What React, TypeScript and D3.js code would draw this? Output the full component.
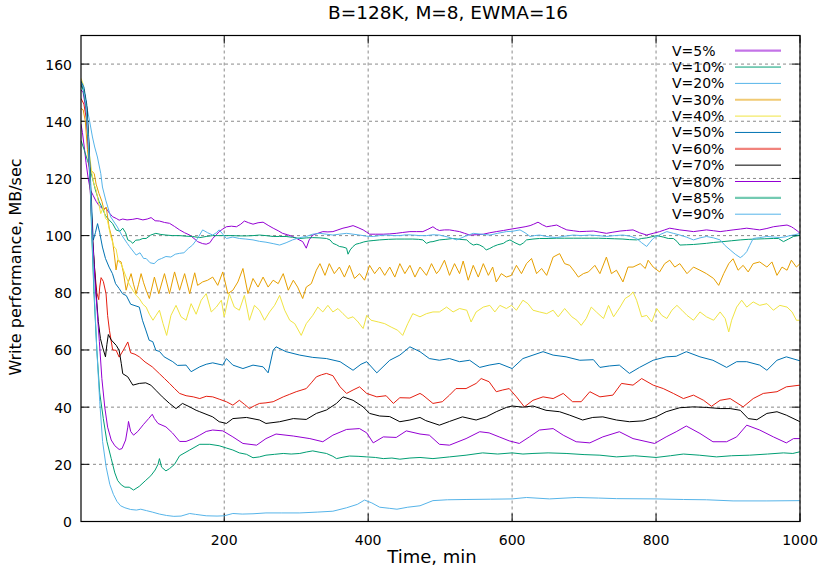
import React from "react";
import * as d3 from "d3";

type Pt = [number, number];

// Write throughput (MB/sec) over time (minutes) for each V setting
const v5: Pt[] = [[1,139],[3,136],[6,130],[8,125.5],[11,120],[14,116],[18,114],[22,112],[26,110.5],[31,109.4],[35.8,109.6],[40,108],[45,106.6],[50,106],[54,105.4],[59,105.8],[65,105.5],[73,105.7],[79,106],[87,105.5],[93,105.8],[98.4,106.3],[104,105.2],[110,105.1],[117,104.6],[124,104.3],[131,103.2],[138,102],[145,101],[152,100.2],[158,99],[163,97.9],[170,97.2],[175,97],[180,97.5],[184,99],[189,100.3],[193,101.4],[198,102.3],[203,103.1],[210,103.3],[217,103.1],[223,104],[228,105.1],[234,104.5],[240,104],[247,104.5],[254,104.7],[261,103.6],[268,102.6],[275,101.7],[281,100.8],[288,100.3],[295,99.7],[302,98.8],[309,97.9],[314,95.6],[318,98.5],[323,100.2],[330,100.8],[337,101.4],[344,101.3],[351,101.4],[358,102],[365,102.6],[372,103],[379,103.5],[386,102.8],[393,102],[398,101.2],[402,100.5],[410,100.5],[421,100.5],[430,100.6],[439,100.8],[448,101.1],[458,101.4],[467,101.4],[476,101.4],[483,102.2],[490,103.1],[495,102.2],[499,101.8],[506,102],[513,102],[520,101.7],[527,101.4],[534,100.8],[541,100.2],[550,100.3],[560,100.5],[569,101],[578,101.4],[588,101.8],[597,102.2],[604,102.5],[611,102.8],[618,103.1],[625,103.5],[630,104],[636,104.7],[642,103.8],[648,103.1],[655,103.4],[662,103.7],[669,102.8],[676,102],[685,101.7],[694,101.4],[703,101.5],[713,101.6],[722,101.2],[731,100.8],[740,101.2],[750,101.6],[759,101.8],[768,102],[777,101],[787,100.2],[796,100.8],[805,101.4],[812,102],[819,102.6],[826,102.3],[833,102],[843,101.7],[852,101.4],[861,101.7],[870,102],[880,101.7],[889,101.4],[898,101.7],[907,102],[917,102.3],[926,102.6],[935,102.3],[944,102],[954,102.5],[963,103.1],[972,103.4],[982,103.7],[988,103.1],[991,102.6],[996,101.7],[1000,100.8]];

const v10: Pt[] = [[1,133.3],[5.7,129.8],[10,126.3],[13,124],[17,120],[21,116],[26,112],[30,110],[35,107],[40,105.5],[45,104.2],[49.7,102],[55,101.5],[59,102.6],[63,101],[66,98.5],[70,98],[73,97.3],[77,98.4],[82,98.5],[87,99],[91.5,99],[98,100.2],[105,100.8],[112,100.4],[119,100.2],[128,100],[138,100],[147,99.8],[156,99.7],[166,99.3],[175,99.7],[184,100],[193,100],[203,100],[212,100],[221,99.9],[231,99.9],[240,100],[249,100.2],[258,100],[268,99.7],[277,99.7],[286,99.7],[295,99.4],[305,99],[314,99.2],[323,99.3],[333,99.2],[342,99],[347,98.5],[351,97.3],[356,96.8],[360,96.2],[365,96],[370,95.6],[372,93.5],[375,95],[379,96.2],[383,97],[388,97.3],[394,97.8],[400,98.1],[408,98.3],[416,98.5],[428,98.7],[439,98.8],[450,98.8],[462,98.8],[470,98.7],[476,98.5],[481,97.3],[486,97.8],[490,97.9],[499,98.5],[508,98.7],[518,99],[527,98.7],[537,98.5],[541,97.5],[546,96.7],[551,97],[555,96.7],[560,96],[564,95],[569,95.5],[574,96.2],[580,96.8],[588,97.3],[592,98],[597,98.5],[604,97.5],[611,96.7],[616,97.5],[620,98.5],[629,98.8],[638,99],[650,99],[662,99.1],[673,99.1],[685,99.1],[696,99.1],[708,99.1],[720,99.1],[731,99],[742,98.9],[754,98.8],[763,98.6],[773,98.5],[780,99],[787,99.2],[794,99.6],[801,100],[810,99.5],[817,99],[824,99],[829,98],[833,96.7],[842,96.8],[852,96.9],[861,97.1],[870,97.3],[880,97.6],[893,97.9],[905,98.2],[917,98.5],[928,98.7],[940,98.8],[951,98.9],[963,99],[970,99],[977,97.9],[984,98.8],[991,99.7],[1000,100.2]];

const v20: Pt[] = [[1,154.3],[5,150],[10,143.8],[13,140],[16.9,134.5],[20,131],[23.8,127.5],[28.5,121.7],[30.8,117],[35.4,112.4],[42.4,106.5],[51.6,103],[58,100],[65.5,97.2],[68.3,96.2],[72,95],[77.6,93.2],[83,94],[88,92],[91.5,92],[97,90.5],[102.6,90.2],[108,91.5],[113,92],[119,92.7],[125.8,92.5],[132,93.5],[138,93.8],[144,94],[150,95.5],[156,96.7],[163,99],[170,102],[177,101],[184,100.2],[189,101],[193,102],[198,100.5],[203,99],[212,99.5],[221,99],[230,98.8],[240,98.5],[249,98],[258,97.7],[268,97.2],[277,96.7],[286,97.5],[295,98.5],[305,99.3],[314,99.7],[323,100.5],[333,100.8],[342,100.5],[351,100.2],[360,100.5],[370,100.8],[379,100.5],[388,100.2],[398,99.8],[407,99.7],[416,100],[425,100.2],[435,100],[444,100],[453,100.3],[462,100.2],[472,100],[481,100],[490,100.3],[499,100.2],[511,99.5],[523,98.5],[535,99.8],[546,100.8],[557,100.5],[569,100.2],[580,100.8],[592,101.4],[600,101.5],[611,102],[618,101],[625,99.7],[631,100],[638,100.2],[650,99.6],[662,99.3],[673,99.8],[685,100.2],[696,100],[708,100.2],[720,100],[731,99.7],[742,100],[754,100.2],[764,99.8],[773,99],[780,97.5],[787,96.2],[791,97.5],[796,99],[805,100.3],[815,101.4],[824,100.8],[833,100.2],[842,99.5],[852,98.5],[861,99.2],[870,99.7],[880,99.2],[889,98.5],[896,96.5],[903,95],[910,93.5],[917,92.3],[921,93],[926,94.4],[930,96.5],[935,99],[944,99.3],[954,99.7],[963,99.5],[972,99.3],[980,99.6],[986,100],[993,100.3],[1000,100.8]];

const v30: Pt[] = [[1,144.5],[4,144],[7,140],[10,130],[12.5,124],[15,122.8],[19.4,121.7],[22,118],[26,114.7],[30,112],[33,108.9],[36,110],[40,103],[44.7,98.4],[47,94],[49.7,88],[52,91.4],[56.7,90.8],[60,87],[63.7,80.9],[67,84],[70.6,86.7],[74,83],[77.6,79.7],[81,83],[84.5,86.7],[88,83.5],[91.5,80.9],[96,78],[103,85.5],[109,79.7],[117,86.7],[124,79.7],[131,87.3],[138,80.9],[145,86.7],[152,79.7],[159,87],[163,82.6],[170,83.8],[177,84.4],[184,85.5],[191,82.6],[198,87.3],[205,79.7],[212,80.9],[219,83.8],[226,88.5],[233,79.7],[240,85],[247,82],[254,85.5],[261,82],[268,84.4],[275,83.2],[282,86.7],[289,80.9],[296,84.4],[302,82],[309,78],[314,82],[321,83.2],[328,87.9],[333,90.2],[340,86.1],[346,90.2],[353,86.7],[360,89],[367,85.5],[374,89.6],[381,85],[388,86.7],[395,84.4],[402,89.6],[409,86.7],[416,89],[423,86.1],[430,89],[437,85.5],[444,90.2],[451,86.7],[458,89.6],[465,85.5],[472,89],[481,86.1],[488,90.2],[495,86.7],[499,87.9],[506,91.4],[513,86.1],[520,90.2],[527,86.7],[532,91.1],[539,84.4],[546,89.6],[553,85.5],[560,90.2],[567,86.1],[573,89],[578,83.8],[585,86.7],[592,85.5],[599,86.1],[606,89.6],[613,86.7],[620,90.2],[627,92],[634,86.7],[641,88.5],[648,86.1],[657,92.5],[666,93.7],[673,90.2],[680,89.6],[687,87.3],[692,85.5],[699,86.7],[706,87.3],[715,89.6],[722,86.7],[731,92.5],[738,86.7],[745,87.9],[754,83.8],[761,89],[768,89],[778,90.2],[785,88.5],[789,91.4],[796,89],[805,87.3],[812,90.2],[819,91.4],[826,89],[833,90.2],[843,86.7],[852,89],[861,87.9],[870,86.7],[880,85],[887,82.6],[894,86.7],[901,90.2],[907,91.9],[914,87.9],[921,89.6],[928,87.3],[935,90.2],[944,90.8],[954,89],[961,90.8],[968,86.1],[975,89],[982,87.9],[988,91.4],[995,89],[1000,90.2]];

const v40: Pt[] = [[1,155],[4,153],[7,148],[10,138],[13,128],[16,122],[19,118],[22,116],[25,112],[28.5,107.7],[32,110],[35,106],[37.7,105.4],[42,100],[47,96],[49.7,95.4],[53,91],[56.7,90.2],[60,88],[63.7,85.5],[68,83],[73,80.9],[78,79],[82,78],[87,76],[91.5,75],[96,72.5],[101,70.4],[105,72],[110,73.9],[115,69.2],[120,65.1],[126,72.1],[133,75.6],[140,71.6],[147,70.4],[154,76.2],[161,72.5],[168,77.4],[175,79.7],[182,73.3],[189,75],[196,77.4],[200,71.6],[207,79.7],[214,75],[221,73.9],[228,79.1],[235,70.4],[242,75.6],[249,73.9],[256,70.4],[263,73.3],[270,75.6],[277,79.1],[284,73.9],[291,70.4],[298,69.2],[307,65.1],[314,69.2],[323,72.1],[330,75],[337,73.3],[344,75.6],[351,73.3],[358,74.5],[365,72.7],[372,71],[379,71.6],[386,69.8],[393,67.5],[398,72.1],[404,70.4],[414,69.8],[423,69.2],[432,68],[441,66.9],[448,65.1],[455,69.2],[462,72.7],[472,71.6],[481,72.7],[490,73.3],[499,73.3],[509,75],[518,73.3],[527,74.5],[537,73.9],[543,69.8],[550,73.3],[560,75],[569,75.6],[576,73.3],[583,75.6],[592,74.5],[599,75.6],[606,73.9],[615,77.4],[622,76.2],[629,73.9],[638,73.3],[648,72.7],[657,73.9],[664,71.6],[673,74.5],[683,71.6],[690,70.4],[696,68.6],[703,71],[710,75],[717,73.3],[727,71],[734,75.6],[741,71.6],[750,75],[757,78],[764,79.1],[768,80.3],[773,77.4],[780,71.6],[787,72.1],[794,69.8],[801,74.5],[808,72.1],[815,71],[822,73.9],[829,75.6],[836,73.9],[843,72.1],[852,70.4],[861,73.3],[870,71.6],[880,70.4],[889,73.3],[896,71],[901,66.3],[905,70.4],[912,75],[919,77.4],[926,75],[935,76.8],[944,75.6],[954,76.2],[963,73.9],[972,75.6],[982,75],[989,73.3],[995,70.4],[1000,70.4]];

const v50: Pt[] = [[1,154],[5,152],[9,146],[12,133],[15,115],[18,98.4],[21,101],[24,104.2],[27,101],[30.8,96],[35,92],[40,89],[44.7,86.7],[49,83.2],[54,81.5],[58.6,79.7],[64,79],[70,76],[76,75.5],[82,75],[86.4,70.4],[91,67],[95.7,63.4],[100.7,62.9],[105,59.9],[110,59.5],[116.5,57.6],[128.5,55.9],[135,54.6],[147,54.7],[154,52.4],[166,54.1],[175,55],[184,55.5],[198,54.7],[203,57],[212,54.7],[226,53.5],[240,54.7],[254,54.1],[261,52],[268,59.9],[272,61.1],[286,59.4],[305,58.2],[323,57.4],[342,57],[361,55.9],[379,52.9],[390,55],[398,55.9],[412,52],[430,56.4],[444,58.2],[458,61.1],[472,59.4],[485,57],[499,56.4],[513,57],[527,55.9],[541,56.4],[555,53.9],[568,54.7],[582,55.3],[600,53.5],[615,57],[629,58.2],[643,59.4],[657,58.2],[675,57.6],[694,56.4],[713,56.6],[722,53.9],[735,54.4],[749,54.7],[763,51.8],[777,53.9],[796,56.4],[814,57.6],[828,57.8],[842,59.4],[861,57.6],[879,56.4],[898,53.9],[912,55.9],[926,55.9],[944,54.7],[954,52.9],[968,56.4],[981,57.6],[1000,56.2]];

const v60: Pt[] = [[1,148],[5,146],[9,140],[12,128],[15,110],[17,98],[20,88],[23,80],[25.6,77.6],[27,82],[28.9,85.3],[32,84],[35.8,79.7],[38,72],[40.5,66.9],[45,60],[49.8,59.9],[54,57.5],[60,60],[66,62.8],[70,59],[76,58.5],[82,57.6],[90,55.8],[100,54.1],[110,51.7],[117,50],[124,48.3],[131,46.5],[138,44.8],[147,44],[157,43.6],[166,43],[175,43.8],[184,43.6],[193,42.8],[203,41.9],[212,40.7],[221,42.4],[228,41],[235,39.5],[242,40.5],[249,41.3],[258,41.5],[268,41.9],[282,43.6],[291,44.5],[300,45.4],[314,46.5],[321,48.5],[328,50.6],[335,51.3],[342,51.8],[351,51],[356,49],[361,47.1],[370,44.8],[379,46],[388,47.1],[398,44.8],[412,43.6],[425,44],[435,41.3],[444,43.3],[458,43.2],[472,44.8],[476,44.2],[490,41.3],[503,41.9],[513,44.2],[522,46.5],[536,46.5],[550,48.3],[557,50],[568,48.9],[578,45.4],[587,46],[596,46.5],[606,43.6],[617,40.1],[629,42.4],[643,43.6],[657,43],[671,44.8],[684,41.9],[696,41.9],[708,45.4],[722,43.6],[740,44.2],[752,48.3],[768,47.7],[780,50],[796,47.7],[810,46.5],[824,44.8],[838,43],[852,44.2],[866,42.4],[877,40.3],[889,42.4],[903,43],[921,40.1],[935,43],[949,44.8],[968,45.4],[981,47.1],[1000,47.7]];

const v70: Pt[] = [[1,153],[5,151],[9,145],[12,132],[15,112],[17,100],[19.5,90],[22,80],[25,70],[28,64],[31,61],[35,57.6],[37,62],[39,65.4],[43,63.5],[50,61.6],[54,59.9],[57,55.2],[59,51.7],[66,50.6],[73,47.7],[82,48.3],[91,48.5],[98,47.7],[105,45.9],[114,43.6],[124,41.3],[133,39.5],[142,41.3],[152,40.1],[161,38.9],[166,38.4],[184,36.6],[193,34.9],[203,34.3],[212,36],[231,36.4],[249,35.5],[258,34.3],[277,34.9],[296,36],[314,35.7],[328,37.8],[342,39],[356,41.3],[365,43.6],[379,42.4],[393,40.1],[402,37.8],[416,36.9],[430,36.7],[444,34.9],[458,35.5],[472,36.4],[480,35.3],[499,33.7],[513,35],[531,36.6],[550,35.5],[564,36.6],[578,38.4],[592,39.9],[600,40.4],[615,40],[629,40.4],[647,38.9],[666,38.4],[680,37.2],[698,35.5],[712,36.4],[726,36.6],[745,35.5],[763,34.9],[782,35.2],[800,36.6],[814,38.4],[833,39.8],[852,40.1],[870,39.9],[889,39.5],[903,39.5],[917,38.9],[928,36],[940,35.6],[954,37.8],[968,38.4],[981,37.2],[1000,34.9]];

const v80: Pt[] = [[1,151],[4,150],[8,144],[11,132],[14,115],[17,99],[21,82],[26.5,63],[30,50],[34,40],[38,33],[43,28.5],[48,26.5],[54,25.2],[58,25.5],[63,28.5],[66,33],[67,35],[70,31.5],[74,30.2],[80,31.5],[88,34],[95,36],[100,37.5],[103,36],[108,34.3],[119,33.1],[128,31],[138,28],[147,28],[157,29],[166,30.2],[175,31.5],[184,32],[198,31.7],[212,29.6],[226,27.3],[245,26.7],[258,29],[272,30.6],[296,29.9],[319,29],[337,27.9],[351,30.2],[370,32.2],[388,32.5],[398,31],[407,27.5],[421,29.6],[439,29.4],[453,31.7],[472,30.6],[485,30.2],[499,27],[513,26.7],[536,29],[555,31.4],[568,31],[582,29.6],[596,28.2],[610,27.3],[624,29.6],[638,32],[657,32.5],[671,30.2],[689,27.9],[708,27.5],[726,29.6],[749,31.4],[768,29],[798,27.3],[814,29.6],[828,31.4],[842,33.4],[861,30.8],[879,27.9],[898,27.9],[912,29.6],[926,33.7],[944,32],[963,29.6],[981,27.5],[991,29],[1000,29]];

const v85: Pt[] = [[1,152.5],[4,151],[8,145],[11,133],[14,116],[16,100],[19,80],[23,60],[27,45],[32,36],[37,28],[43,22],[48,17],[52,14.3],[57,12.8],[62,12],[68,12],[74,11],[82,12.3],[91,14.4],[98,16],[104,18],[108,20],[110,22],[113,19],[119,17.7],[124,18.5],[131,20],[138,23],[152,25],[166,27],[180,27],[193,26.5],[203,25.7],[212,25],[221,24],[231,23.5],[240,22.3],[249,22.6],[258,23.2],[270,23.5],[282,23.8],[293,23.6],[305,23.8],[314,24.3],[323,24.7],[333,24.2],[342,23.8],[351,22.8],[356,22],[365,22.5],[374,22.9],[386,22.8],[398,22.6],[410,22.4],[421,22],[433,22.2],[444,21.8],[458,22.2],[472,22.4],[490,22],[513,22.6],[536,23.2],[559,24],[580,23.6],[600,24],[615,23.6],[629,23.8],[650,24],[675,23.8],[700,23.4],[722,23.2],[745,22.6],[770,23],[800,22.4],[820,23],[838,23.6],[860,23.2],[884,22.6],[905,23],[930,23.2],[955,23.6],[977,24],[990,23.8],[1000,24.4]];

const v90: Pt[] = [[1,153],[4,152],[8,146],[11,135],[14,118],[16,102],[19,82],[23,60],[27,42],[31,28],[36,19],[41,13],[46,9.5],[51,7],[56,5.5],[62,4.8],[70,4.2],[78,4.0],[84,4.3],[92,3.8],[100,3.3],[110,2.6],[120,2.1],[130,1.8],[140,1.9],[152,2.8],[160,2.5],[175,2.0],[190,1.9],[200,2.0],[212,2.8],[225,2.6],[240,2.7],[258,3.0],[280,3.0],[305,3.0],[330,3.3],[351,3.6],[370,4.8],[385,6.0],[395,7.5],[405,6.5],[416,5.0],[430,4.6],[440,4.3],[455,5.0],[472,5.5],[490,7.3],[510,7.6],[536,7.7],[570,7.8],[600,7.9],[620,8.4],[652,7.9],[689,8.4],[720,8.2],[745,8.0],[800,7.9],[838,7.7],[870,7.6],[907,7.2],[954,7.2],[1000,7.3]];

const seriesLabels = ["V=5%", "V=10%", "V=20%", "V=30%", "V=40%", "V=50%", "V=60%", "V=70%", "V=80%", "V=85%", "V=90%"];
const seriesData = [v5, v10, v20, v30, v40, v50, v60, v70, v80, v85, v90];
const seriesColors = ["#9400d3", "#009e73", "#56b4e9", "#e69f00", "#f0e442", "#0072b2", "#e51e10", "#000000", "#9400d3", "#009e73", "#56b4e9"];
// key samples drawn heavier for these entries
const keyHeavy = [true, false, false, true, false, false, true, false, false, true, false];

const yTicks = [0, 20, 40, 60, 80, 100, 120, 140, 160];
const xTicks = [200, 400, 600, 800, 1000];

const FONT = "'DejaVu Sans', sans-serif";

export default function App() {
  const W = 825;
  const H = 569;
  const x = d3.scaleLinear().domain([1, 1000]).range([81, 800]);
  const y = d3.scaleLinear().domain([0, 170]).range([521.5, 35.5]);
  const [x0, x1] = x.range();
  const [y0, y1] = y.range();
  const line = d3
    .line<Pt>()
    .x((d) => x(d[0]))
    .y((d) => y(d[1]));

  const gridColor = "#8a8a8a";
  const tickLen = 8;

  return (
    <svg
      width={W}
      height={H}
      viewBox={`0 0 ${W} ${H}`}
      style={{ position: "absolute", left: 0, top: 0, background: "#fff" }}
      fontFamily={FONT}
    >
      <defs>
        <clipPath id="plot-clip">
          <rect x={x0} y={y1} width={x1 - x0} height={y0 - y1} />
        </clipPath>
      </defs>
      <rect x={0} y={0} width={W} height={H} fill="#fff" />

      {/* grid */}
      <g stroke={gridColor} strokeWidth={1} strokeDasharray="3,3">
        {yTicks.map((t) => (
          <line key={"gy" + t} x1={x0} x2={x1} y1={y(t)} y2={y(t)} />
        ))}
        {xTicks.map((t) => (
          <line key={"gx" + t} x1={x(t)} x2={x(t)} y1={y0} y2={y1} />
        ))}
      </g>

      {/* tick marks, mirrored on all sides */}
      <g stroke="#000" strokeWidth={1}>
        {yTicks.map((t) => (
          <g key={"ty" + t}>
            <line x1={x0} x2={x0 + tickLen} y1={y(t)} y2={y(t)} />
            <line x1={x1} x2={x1 - tickLen} y1={y(t)} y2={y(t)} />
          </g>
        ))}
        {xTicks.map((t) => (
          <g key={"tx" + t}>
            <line x1={x(t)} x2={x(t)} y1={y0} y2={y0 - tickLen} />
            <line x1={x(t)} x2={x(t)} y1={y1} y2={y1 + tickLen} />
          </g>
        ))}
      </g>

      {/* series */}
      <g clipPath="url(#plot-clip)" fill="none" strokeWidth={1} strokeLinejoin="round">
        {seriesData.map((d, i) => (
          <path key={seriesLabels[i]} d={line(d) ?? ""} stroke={seriesColors[i]} />
        ))}
      </g>

      {/* frame */}
      <rect x={x0} y={y1} width={x1 - x0} height={y0 - y1} fill="none" stroke="#000" strokeWidth={1.2} />

      {/* tick labels */}
      <g fontSize={14} fill="#000">
        {yTicks.map((t) => (
          <text key={"ly" + t} x={72} y={y(t) + 5.5} textAnchor="end">
            {t}
          </text>
        ))}
        {xTicks.map((t) => (
          <text key={"lx" + t} x={x(t)} y={545} textAnchor="middle">
            {t}
          </text>
        ))}
      </g>

      {/* key */}
      <g fontSize={14}>
        {seriesLabels.map((lab, i) => {
          const cy = 50.7 + i * 16.35;
          return (
            <g key={"k" + lab}>
              <text x={672} y={cy + 5} fill="#000">
                {lab}
              </text>
              <line
                x1={735}
                x2={781}
                y1={cy}
                y2={cy}
                stroke={seriesColors[i]}
                strokeWidth={keyHeavy[i] ? 2.2 : 1}
                strokeOpacity={keyHeavy[i] ? 0.55 : 1}
              />
            </g>
          );
        })}
      </g>

      {/* titles */}
      <text x={448} y={18.5} textAnchor="middle" fontSize={18.5} fill="#000">
        B=128K, M=8, EWMA=16
      </text>
      <text x={432} y={563} textAnchor="middle" fontSize={18} fill="#000">
        Time, min
      </text>
      <text
        x={20.5}
        y={267}
        textAnchor="middle"
        fontSize={16}
        fill="#000"
        transform="rotate(-90, 20.5, 267)"
      >
        Write performance, MB/sec
      </text>
    </svg>
  );
}
